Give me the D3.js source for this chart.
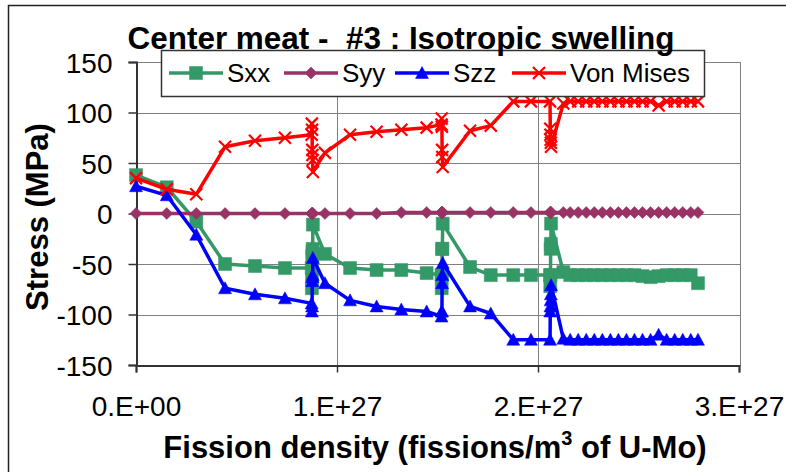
<!DOCTYPE html>
<html>
<head>
<meta charset="utf-8">
<script src="https://cdn.jsdelivr.net/npm/d3@7/dist/d3.min.js"></script>
<style>
  html, body { margin: 0; padding: 0; background: #fff; }
  svg { display: block; }
  text { font-family: "Liberation Sans", Arial, sans-serif; fill: #000; white-space: pre; }
</style>
</head>
<body>
<svg id="chart" width="786" height="472"></svg>
<script>
// Fission density (fissions/m^3 of U-Mo) at each output step
const fission = [
  0, 0.153e27, 0.300e27, 0.443e27, 0.592e27, 0.741e27,
  0.874e27, 0.875e27, 0.876e27, 0.877e27, 0.878e27, 0.879e27, 0.880e27,
  0.940e27, 1.065e27, 1.197e27, 1.320e27, 1.446e27,
  1.520e27, 1.521e27, 1.522e27, 1.523e27, 1.524e27, 1.526e27,
  1.662e27, 1.765e27, 1.877e27, 1.965e27,
  2.060e27, 2.061e27, 2.062e27, 2.063e27, 2.064e27, 2.065e27,
  2.126e27, 2.160e27, 2.200e27, 2.240e27, 2.280e27, 2.320e27, 2.360e27,
  2.400e27, 2.440e27, 2.480e27, 2.520e27, 2.560e27, 2.600e27, 2.640e27,
  2.680e27, 2.720e27, 2.760e27, 2.796e27
];

// Stress components (MPa)
const sxx = [
  38, 26, -8, -50, -52, -54,
  -54, -74, -66, -42, -38, -35, -11,
  -40, -54, -56, -56, -59,
  -61, -74, -61, -35, -35, -10,
  -53, -61, -61, -61,
  -61, -72, -61, -35, -30, -10,
  -58, -61, -61, -61, -61, -61, -61,
  -61, -61, -61, -62, -63, -62, -61,
  -61, -61, -61, -69
];
const syy = [
  0, 0, 0, 0, 0, 0,
  0, 0, 0, 0, 0, 0, 0,
  0, 0, 0, 1, 1,
  1, 1, 1, 1, 1, 1,
  1, 1, 1, 1,
  1, 1, 1, 1, 1, 1,
  1, 1, 1, 1, 1, 1, 1,
  1, 1, 1, 1, 1, 1, 1,
  1, 1, 1, 1
];
const szz = [
  27, 18, -21, -74, -80, -84,
  -89, -97, -92, -67, -63, -61, -44,
  -69, -86, -92, -95, -97,
  -102, -97, -97, -69, -61, -49,
  -92, -99, -125, -125,
  -125, -97, -92, -86, -80, -71,
  -124, -125, -125, -125, -125, -125, -125,
  -125, -125, -125, -125, -125, -120, -125,
  -125, -125, -125, -125
];
const vonMises = [
  35, 24, 19, 66, 72, 75,
  78, 89, 83, 63, 58, 53, 41,
  60, 78, 81, 83, 85,
  88, 94, 86, 63, 56, 46,
  82, 87, 111, 111,
  111, 84, 78, 73, 70, 66,
  109, 111, 111, 111, 111, 111, 111,
  111, 111, 111, 111, 111, 107, 111,
  111, 111, 111, 111
];

const seriesNames = ["Sxx", "Syy", "Szz", "Von Mises"];
const seriesColors = ["#339966", "#993366", "#0000FF", "#FF0000"];
const seriesMarkers = ["square", "diamond", "triangle", "cross"];
const seriesValues = [sxx, syy, szz, vonMises];

const xTicks = [0, 1e27, 2e27, 3e27];
const xTickLabels = ["0.E+00", "1.E+27", "2.E+27", "3.E+27"];
const yTicks = [-150, -100, -50, 0, 50, 100, 150];

const titleText = "Center meat -  #3 : Isotropic swelling";
const yTitle = "Stress (MPa)";

const W = 786, H = 472;
const plot = { left: 136, right: 740, top: 62, bottom: 365 };
const FONT = "'Liberation Sans', Arial, sans-serif";

const svg = d3.select("#chart");
svg.append("rect").attr("width", W).attr("height", H).attr("fill", "#fff");

// outer chart frame
svg.append("rect")
  .attr("x", 8.5).attr("y", 5.5)
  .attr("width", W + 20).attr("height", H + 20)
  .attr("fill", "none").attr("stroke", "#222").attr("stroke-width", 1.5);

const x = d3.scaleLinear().domain([0, 3e27]).range([plot.left, plot.right - 1]);
const y = d3.scaleLinear().domain([-150, 150]).range([plot.bottom, plot.top]);

// gridlines
const grid = svg.append("g").attr("stroke", "#808080").attr("stroke-width", 1);
grid.selectAll("line.h").data(yTicks.filter(v => v > -150 && v < 150)).join("line")
  .attr("x1", plot.left).attr("x2", plot.right)
  .attr("y1", d => Math.round(y(d)) + 0.5).attr("y2", d => Math.round(y(d)) + 0.5);
grid.selectAll("line.v").data(xTicks.filter(v => v > 0 && v < 3e27)).join("line")
  .attr("x1", d => Math.round(x(d)) + 0.5).attr("x2", d => Math.round(x(d)) + 0.5)
  .attr("y1", plot.top).attr("y2", plot.bottom);

// plot area border
svg.append("rect")
  .attr("x", plot.left + 0.5).attr("y", plot.top + 0.5)
  .attr("width", plot.right - plot.left).attr("height", plot.bottom - plot.top)
  .attr("fill", "none").attr("stroke", "#808080");

// axes
const yAxis = d3.axisLeft(y).tickValues(yTicks).tickSize(8).tickPadding(16).tickFormat(d => String(d));
const yg = svg.append("g").attr("transform", `translate(${plot.left + 0.5},0)`).call(yAxis);
const xAxis = d3.axisBottom(x).tickValues(xTicks).tickSize(7).tickPadding(24).tickFormat((d, i) => xTickLabels[i]);
const xg = svg.append("g").attr("transform", `translate(0,${plot.bottom + 0.5})`).call(xAxis);
[yg, xg].forEach(g => {
  g.attr("font-family", FONT).attr("font-size", 28);
  g.select(".domain").attr("stroke", "#333").attr("stroke-width", 2);
  g.selectAll(".tick line").attr("stroke", "#333").attr("stroke-width", 1.5);
  g.selectAll(".tick text").attr("font-size", 28).attr("font-family", FONT).attr("fill", "#000");
});
yg.selectAll(".tick text").attr("dy", "0.36em");

// marker shapes
function markerPath(kind) {
  switch (kind) {
    case "square": return "M-6.5,-6.5H6.5V6.5H-6.5Z";
    case "diamond": return "M0,-6L6,0L0,6L-6,0Z";
    case "triangle": return "M0,-6.5L6.5,5.5H-6.5Z";
    case "cross": return "M-6,-6L6,6M6,-6L-6,6";
  }
}

function drawMarker(sel, kind, color) {
  sel.append("path").attr("d", markerPath(kind))
    .attr("fill", kind === "cross" ? "none" : color)
    .attr("stroke", color)
    .attr("stroke-width", kind === "cross" ? 2.2 : 0.5);
}

const line = d3.line().x(d => x(d[0])).y(d => y(d[1]));

seriesValues.forEach((vals, si) => {
  const pts = fission.map((f, i) => [f, vals[i]]);
  const g = svg.append("g");
  g.append("path").datum(pts).attr("d", line)
    .attr("fill", "none").attr("stroke", seriesColors[si])
    .attr("stroke-width", 3.5).attr("stroke-linejoin", "round");
  pts.forEach(p => {
    const m = g.append("g").attr("transform", `translate(${x(p[0])},${y(p[1])})`);
    drawMarker(m, seriesMarkers[si], seriesColors[si]);
  });
});

// legend
const legend = svg.append("g");
legend.append("rect")
  .attr("x", 161.5).attr("y", 50.5).attr("width", 543).attr("height", 46)
  .attr("fill", "#fff").attr("stroke", "#333").attr("stroke-width", 1.5);
const legendX = [169, 284, 395, 512];
seriesNames.forEach((name, i) => {
  const lx = legendX[i], ly = 73;
  legend.append("line").attr("x1", lx).attr("x2", lx + 54).attr("y1", ly).attr("y2", ly)
    .attr("stroke", seriesColors[i]).attr("stroke-width", 3.5);
  const m = legend.append("g").attr("transform", `translate(${lx + 27},${ly})`);
  drawMarker(m, seriesMarkers[i], seriesColors[i]);
  legend.append("text").attr("x", lx + 58).attr("y", ly + 8.5)
    .attr("font-size", 26).text(name);
});

// titles
svg.append("text").attr("x", 401).attr("y", 49)
  .attr("text-anchor", "middle").attr("font-size", 31).attr("font-weight", "bold")
  .attr("textLength", 547).attr("lengthAdjust", "spacingAndGlyphs")
  .text(titleText);

svg.append("text")
  .attr("transform", `translate(48,217) rotate(-90)`)
  .attr("text-anchor", "middle").attr("font-size", 31).attr("font-weight", "bold")
  .text(yTitle);

const xt = svg.append("text").attr("x", 435).attr("y", 458)
  .attr("text-anchor", "middle").attr("font-size", 31).attr("font-weight", "bold");
xt.append("tspan").text("Fission density (fissions/m");
xt.append("tspan").attr("font-size", 20).attr("dy", -13).text("3");
xt.append("tspan").attr("dy", 13).text(" of U-Mo)");
</script>
</body>
</html>
